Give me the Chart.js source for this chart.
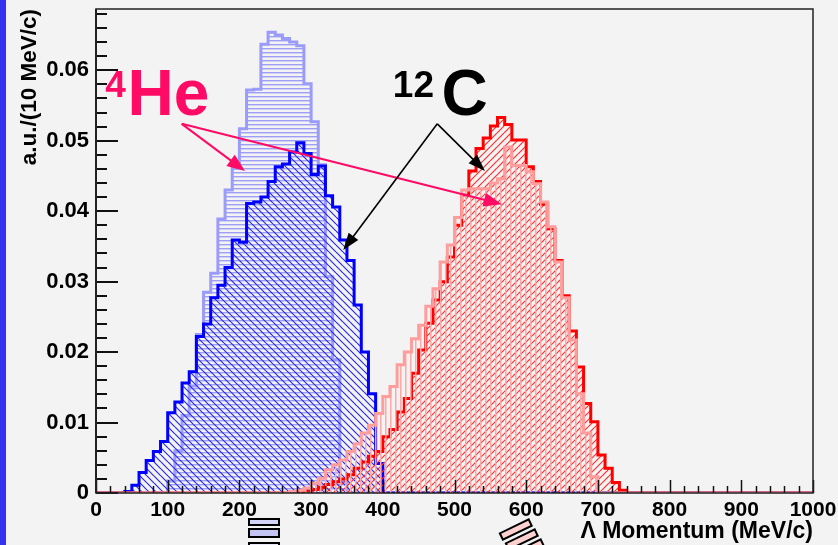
<!DOCTYPE html>
<html lang="en">
<head>
  <meta charset="UTF-8">
  <title>Lambda momentum spectra</title>
  <style>
    html, body { margin: 0; padding: 0; background: #f3f3f3; }
    canvas { display: block; }
  </style>
</head>
<body>
  <canvas id="momentumChart" width="838" height="545"></canvas>

  <script src="https://cdn.jsdelivr.net/npm/chart.js"></script>
  <script>
    // histogram binning, MeV/c
    const binWidth = 10;
    const xMin = 0;
    const xMax = 1000;
    const yMax = 0.0687;

    // axis tick labels
    const xMajorTicks = [0, 100, 200, 300, 400, 500, 600, 700, 800, 900, 1000];
    const yMajorTicks = [0, 0.01, 0.02, 0.03, 0.04, 0.05, 0.06];

    // 4He, low momentum peak (first bin starts at 100 MeV/c)
    const he4LowStart = 100;
    const he4Low = [0.0017, 0.0060, 0.0110, 0.0152, 0.0225, 0.0285, 0.0312, 0.0389, 0.0430, 0.0461,
                    0.0517, 0.0572, 0.0573, 0.0637, 0.0654, 0.0650, 0.0645, 0.0640, 0.0635, 0.0581,
                    0.0527, 0.0466, 0.0307, 0.0189, 0.0016];

    // 12C, low momentum peak
    const c12LowStart = 40;
    const c12Low = [0.0002, 0.0011, 0.0029, 0.0046, 0.0059, 0.0073, 0.0114, 0.0129, 0.0156, 0.0172,
                    0.0222, 0.0240, 0.0277, 0.0295, 0.0320, 0.0359, 0.0356, 0.0411, 0.0413, 0.0420,
                    0.0442, 0.0463, 0.0467, 0.0484, 0.0497, 0.0482, 0.0452, 0.0464, 0.0422, 0.0406,
                    0.0359, 0.0330, 0.0267, 0.0200, 0.0141, 0.0042];

    // 12C, high momentum peak
    const c12HighStart = 280;
    const c12High = [0.0002, 0.0003, 0.0005, 0.0008, 0.0012, 0.0016, 0.0020, 0.0026, 0.0035, 0.0044,
                     0.0052, 0.0059, 0.0080, 0.0090, 0.0115, 0.0134, 0.0170, 0.0203, 0.0241, 0.0274,
                     0.0300, 0.0335, 0.0380, 0.0423, 0.0457, 0.0489, 0.0504, 0.0521, 0.0533, 0.0523,
                     0.0501, 0.0501, 0.0463, 0.0442, 0.0410, 0.0375, 0.0330, 0.0280, 0.0230, 0.0179,
                     0.0127, 0.0101, 0.0054, 0.0035, 0.0015, 0.0004];

    // 4He, high momentum peak
    const he4HighStart = 270;
    const he4High = [0.0002, 0.0004, 0.0007, 0.0014, 0.0021, 0.0033, 0.0040, 0.0047, 0.0059, 0.0070,
                     0.0085, 0.0096, 0.0113, 0.0137, 0.0151, 0.0182, 0.0200, 0.0219, 0.0238, 0.0265,
                     0.0290, 0.0328, 0.0352, 0.0391, 0.0430, 0.0432, 0.0432, 0.0432, 0.0440, 0.0446,
                     0.0491, 0.0465, 0.0465, 0.0456, 0.0439, 0.0413, 0.0378, 0.0328, 0.0277, 0.0217,
                     0.0141, 0.0085, 0.0023];

    const FONT = '"Liberation Sans", Arial, Helvetica, sans-serif';
    const PINK = '#ff0a64';

    // pad a histogram to the full axis range; each point sits on a bin's left edge
    function histPoints(start, values) {
      const pts = [];
      for (let x = xMin; x < xMax; x += binWidth) {
        const i = Math.round((x - start) / binWidth);
        pts.push({ x: x, y: (i >= 0 && i < values.length) ? values[i] : 0 });
      }
      pts.push({ x: xMax, y: 0 });
      return pts;
    }

    // hatch fills
    function hatch(kind, color, size, width) {
      const c = document.createElement('canvas');
      c.width = size; c.height = size;
      const g = c.getContext('2d');
      g.strokeStyle = color;
      g.fillStyle = color;
      g.lineWidth = width;
      if (kind === 'horizontal') {
        g.fillRect(0, 0, size, width);
      } else if (kind === 'vertical') {
        g.fillRect(0, 0, width, size);
      } else if (kind === 'back') {          // "\" lines
        g.beginPath();
        for (let k = -1; k <= 1; k++) {
          g.moveTo(0, k * size);
          g.lineTo(size, k * size + size);
        }
        g.stroke();
      } else {                                // "/" lines
        g.beginPath();
        for (let k = 0; k <= 2; k++) {
          g.moveTo(0, k * size);
          g.lineTo(size, k * size - size);
        }
        g.stroke();
      }
      return g.createPattern(c, 'repeat');
    }

    function arrow(ctx, x0, y0, x1, y1, color, lw, len, half) {
      const a = Math.atan2(y1 - y0, x1 - x0);
      ctx.strokeStyle = color;
      ctx.fillStyle = color;
      ctx.lineWidth = lw;
      ctx.beginPath();
      ctx.moveTo(x0, y0);
      ctx.lineTo(x1 - Math.cos(a) * len * 0.6, y1 - Math.sin(a) * len * 0.6);
      ctx.stroke();
      ctx.beginPath();
      ctx.moveTo(x1, y1);
      ctx.lineTo(x1 - Math.cos(a) * len - Math.sin(a) * half, y1 - Math.sin(a) * len + Math.cos(a) * half);
      ctx.lineTo(x1 - Math.cos(a) * len + Math.sin(a) * half, y1 - Math.sin(a) * len - Math.cos(a) * half);
      ctx.closePath();
      ctx.fill();
    }

    // ROOT style frame, inner ticks, labels and arrows
    const rootFrame = {
      id: 'rootFrame',
      beforeDraw(chart) {
        const { ctx, width, height } = chart;
        ctx.save();
        ctx.fillStyle = '#f3f3f3';
        ctx.fillRect(0, 0, width, height);
        ctx.fillStyle = '#3434f0';
        ctx.fillRect(0, 0, 6, height);
        ctx.restore();
      },
      afterDatasetsDraw(chart) {
        const { ctx } = chart;
        const { left, right, top, bottom } = chart.chartArea;
        const xs = chart.scales.x;
        const ys = chart.scales.y;
        const px = v => xs.getPixelForValue(v);
        const py = v => ys.getPixelForValue(v);

        ctx.save();
        ctx.strokeStyle = '#111';
        ctx.lineWidth = 1.5;

        // x ticks: major every 100, minor every 20
        for (let i = 0; i <= (xMax - xMin) / 20; i++) {
          const x = Math.round(px(xMin + i * 20)) + 0.5;
          const len = (i % 5 === 0) ? 13 : 7;
          ctx.beginPath();
          ctx.moveTo(x, bottom);
          ctx.lineTo(x, bottom - len);
          ctx.stroke();
        }
        // y ticks: major every 0.01, minor every 0.002
        ctx.lineWidth = 2;
        for (let i = 0; i * 0.002 <= yMax; i++) {
          const y = Math.round(py(i * 0.002));
          const len = (i % 5 === 0) ? 22 : 11;
          ctx.beginPath();
          ctx.moveTo(left, y);
          ctx.lineTo(left + len, y);
          ctx.stroke();
        }

        // frame
        ctx.strokeStyle = '#222';
        ctx.lineWidth = 1.5;
        ctx.strokeRect(left, top, right - left, bottom - top);
        ctx.lineWidth = 2;
        ctx.beginPath();
        ctx.moveTo(left, top);
        ctx.lineTo(left, bottom);
        ctx.stroke();

        // 4He label and arrows
        ctx.textBaseline = 'alphabetic';
        ctx.textAlign = 'left';
        ctx.fillStyle = PINK;
        ctx.font = 'bold 37px ' + FONT;
        ctx.fillText('4', px(13), py(0.0562));
        ctx.font = 'bold 64px ' + FONT;
        ctx.fillText('He', px(44), py(0.0536));
        arrow(ctx, px(119.5), py(0.0524), px(207.8), py(0.0457), PINK, 2, 18, 7);
        arrow(ctx, px(119.5), py(0.0524), px(565.8), py(0.0410), PINK, 2, 18, 7);

        // 12C label and arrows
        ctx.fillStyle = '#000';
        ctx.font = 'bold 37px ' + FONT;
        ctx.fillText('12', px(414), py(0.0562));
        ctx.font = 'bold 64px ' + FONT;
        ctx.fillText('C', px(482), py(0.0536));
        arrow(ctx, px(476), py(0.0524), px(344.9), py(0.0345), '#000', 1.6, 17, 6);
        arrow(ctx, px(476), py(0.0524), px(542.5), py(0.0457), '#000', 1.6, 17, 6);

        ctx.restore();
      },
      afterDraw(chart) {
        // stray legend boxes peeking in below the axis
        const { ctx } = chart;
        ctx.save();
        ctx.strokeStyle = '#000';
        ctx.lineWidth = 2;
        [[519, 6, '#d4d4f8'], [529, 8, '#c4c4f2'], [543, 8, '#e8e8f8']].forEach(([y, h, c]) => {
          ctx.fillStyle = c;
          ctx.fillRect(249, y, 30, h);
          ctx.strokeRect(249, y, 30, h);
        });
        [[516, 530], [522, 540], [528, 550]].forEach(([cx, cy]) => {
          ctx.save();
          ctx.translate(cx, cy);
          ctx.rotate(-0.45);
          ctx.fillStyle = '#ffd0d0';
          ctx.fillRect(-16, -4, 32, 7);
          ctx.strokeRect(-16, -4, 32, 7);
          ctx.restore();
        });
        ctx.restore();
      }
    };

    const ctx = document.getElementById('momentumChart').getContext('2d');

    const histStyle = (label, start, values, line, pattern, order) => ({
      label: label,
      data: histPoints(start, values),
      stepped: 'before',
      fill: 'origin',
      borderColor: line,
      backgroundColor: pattern,
      borderWidth: 3,
      pointRadius: 0,
      tension: 0,
      order: order
    });

    const momentumChart = new Chart(ctx, {
      type: 'line',
      data: {
        datasets: [
          histStyle('4He', he4LowStart, he4Low, '#9b9bfa', hatch('horizontal', '#9e9ef6', 4, 1.4), 4),
          histStyle('12C', c12LowStart, c12Low, '#0000ff', hatch('back', '#2a2af0', 7, 1.2), 3),
          histStyle('12C', c12HighStart, c12High, '#ff0000', hatch('forward', '#ff3030', 7, 1.2), 2),
          histStyle('4He', he4HighStart, he4High, '#ff9c9c', hatch('vertical', '#ffa8a8', 5, 1.5), 1)
        ]
      },
      options: {
        responsive: false,
        animation: false,
        events: [],
        layout: { padding: { top: 9, right: 25, left: 0, bottom: 0 } },
        plugins: {
          legend: { display: false },
          tooltip: { enabled: false }
        },
        scales: {
          x: {
            type: 'linear',
            min: xMin,
            max: xMax,
            afterFit: s => { s.height = 52; s.paddingLeft = 0; s.paddingRight = 0; },
            afterBuildTicks: s => { s.ticks = xMajorTicks.map(v => ({ value: v })); },
            grid: { display: false, drawTicks: false },
            border: { display: false },
            ticks: {
              padding: 5,
              color: '#000',
              autoSkip: false,
              maxRotation: 0,
              font: { family: FONT, size: 21, weight: 'bold' },
              callback: v => String(v)
            },
            title: {
              display: true,
              text: 'Λ Momentum (MeV/c)',
              align: 'end',
              color: '#000',
              font: { family: FONT, size: 23, weight: 'bold' },
              padding: { top: 0, bottom: 0 }
            }
          },
          y: {
            min: 0,
            max: yMax,
            afterFit: s => { s.width = 96; s.paddingTop = 0; s.paddingBottom = 0; },
            afterBuildTicks: s => { s.ticks = yMajorTicks.map(v => ({ value: v })); },
            grid: { display: false, drawTicks: false },
            border: { display: false },
            ticks: {
              padding: 7,
              color: '#000',
              autoSkip: false,
              font: { family: FONT, size: 22, weight: 'bold' },
              callback: v => (v === 0 ? '0' : v.toFixed(2))
            },
            title: {
              display: true,
              text: 'a.u./(10 MeV/c)',
              align: 'end',
              color: '#000',
              font: { family: FONT, size: 22.5, weight: 'bold' },
              padding: { top: 16, bottom: 0 }
            }
          }
        }
      },
      plugins: [rootFrame]
    });
  </script>
</body>
</html>
